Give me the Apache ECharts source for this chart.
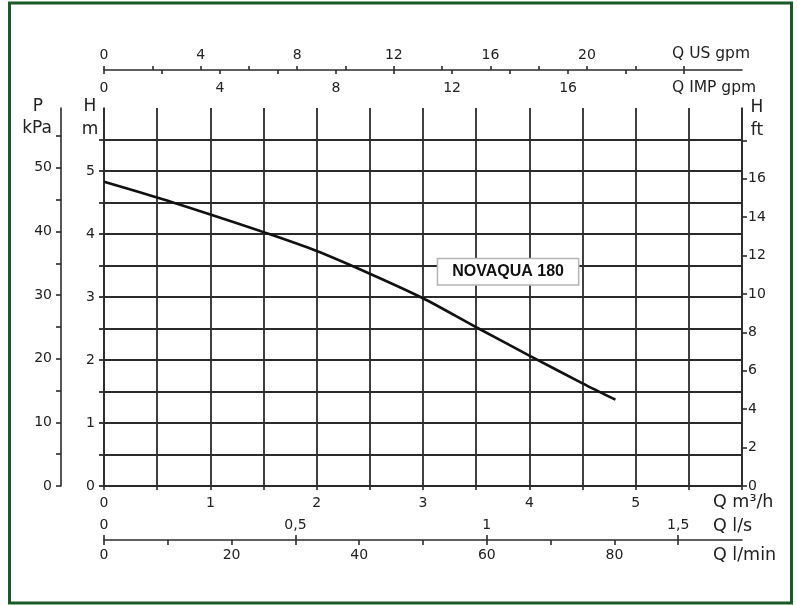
<!DOCTYPE html>
<html>
<head>
<meta charset="utf-8">
<script src="https://cdn.jsdelivr.net/npm/echarts@6/dist/echarts.min.js"></script>
<style>
html,body{margin:0;padding:0;background:#fff;}
#chart{width:797px;height:605px;}
</style>
</head>
<body>
<div id="chart"></div>
<script>
// ---- data ----
const flowM3h = [0, 0.5, 1, 1.5, 2, 2.5, 3, 3.5, 4, 4.5, 4.81];
const headM   = [4.83, 4.58, 4.31, 4.03, 3.73, 3.37, 2.98, 2.52, 2.07, 1.63, 1.37];
const curveName = 'NOVAQUA 180';

// tick label values
const m3hLabels   = [0, 1, 2, 3, 4, 5];
const lsLabels    = [0, 0.5, 1, 1.5];
const lminLabels  = [0, 20, 40, 60, 80];
const lminTicks   = [0, 10, 20, 30, 40, 50, 60, 70, 80, 90];
const usLabels    = [0, 4, 8, 12, 16, 20];
const usTicks     = [0, 2, 4, 6, 8, 10, 12, 14, 16, 18, 20, 22, 24];
const impLabels   = [0, 4, 8, 12, 16];
const impTicks    = [0, 2, 4, 6, 8, 10, 12, 14, 16, 18, 20];
const mLabels     = [0, 1, 2, 3, 4, 5];
const mTicks      = [0, 0.5, 1, 1.5, 2, 2.5, 3, 3.5, 4, 4.5, 5, 5.5];
const kpaLabels   = [0, 10, 20, 30, 40, 50];
const kpaTicks    = [0, 5, 10, 15, 20, 25, 30, 35, 40, 45, 50, 55];
const ftLabels    = [0, 2, 4, 6, 8, 10, 12, 14, 16];
const ftTicks     = [0, 2, 4, 6, 8, 10, 12, 14, 16, 18];

// unit conversions
const Q_MAX = 6, H_MAX = 6;
const LPS = Q_MAX / 3.6;
const LPM = Q_MAX * 1000 / 60;
const USGPM = Q_MAX / 0.2271247;
const IMPGPM = Q_MAX / 0.2727654;
const KPA = H_MAX * 9.9;
const FT = H_MAX / 0.3048;

const FONT = 'DejaVu Sans';
const TXT = '#222';
const LINE = '#2b2b2b';
const comma = v => String(v).replace('.', ',');

function axisCommon(extra) {
  const base = {
    type: 'value',
    splitLine: { show: false },
    minorTick: { show: false }
  };
  const out = Object.assign(base, extra);
  out.axisLine = Object.assign({ show: true, onZero: false, lineStyle: { color: LINE, width: 1.6 } }, extra.axisLine || {});
  return out;
}

const chart = echarts.init(document.getElementById('chart'), null, { renderer: 'canvas' });

const option = {
  backgroundColor: '#fff',
  animation: false,
  grid: { left: 104, right: 55, top: 108, bottom: 119, containLabel: false },
  xAxis: [
    axisCommon({
      position: 'bottom', min: 0, max: Q_MAX, interval: 0.5,
      axisTick: { show: true, length: 4, lineStyle: { color: LINE, width: 1.6 } },
      axisLabel: { customValues: m3hLabels, margin: 10, color: TXT, fontFamily: FONT, fontSize: 14 },
      splitLine: { show: true, lineStyle: { color: LINE, width: 1.8 } }
    }),
    axisCommon({
      position: 'bottom', offset: 54, min: 0, max: LPM,
      axisTick: { show: true, length: 5, customValues: lminTicks, lineStyle: { color: LINE, width: 1.6 } },
      axisLabel: { customValues: lminLabels, margin: 8, color: TXT, fontFamily: FONT, fontSize: 14 }
    }),
    axisCommon({
      position: 'bottom', offset: 54, min: 0, max: LPS,
      axisLine: { show: false },
      axisTick: { show: true, inside: true, length: 5, customValues: lsLabels, lineStyle: { color: LINE, width: 1.6 } },
      axisLabel: { inside: true, customValues: lsLabels, margin: 8, formatter: comma, color: TXT, fontFamily: FONT, fontSize: 14 }
    }),
    axisCommon({
      position: 'top', offset: 38, min: 0, max: USGPM,
      axisTick: { show: true, length: 4, customValues: usTicks, lineStyle: { color: LINE, width: 1.6 } },
      axisLabel: { customValues: usLabels, margin: 8, color: TXT, fontFamily: FONT, fontSize: 14 }
    }),
    axisCommon({
      position: 'top', offset: 38, min: 0, max: IMPGPM,
      axisLine: { show: false },
      axisTick: { show: true, inside: true, length: 4, customValues: impTicks, lineStyle: { color: LINE, width: 1.6 } },
      axisLabel: { inside: true, customValues: impLabels, margin: 11, color: TXT, fontFamily: FONT, fontSize: 14 }
    })
  ],
  yAxis: [
    axisCommon({
      position: 'left', min: 0, max: H_MAX, interval: 0.5,
      axisTick: { show: true, length: 5, customValues: mTicks, lineStyle: { color: LINE, width: 1.8 } },
      axisLabel: { customValues: mLabels, margin: 9, color: TXT, fontFamily: FONT, fontSize: 14 },
      splitLine: { show: true, lineStyle: { color: LINE, width: 1.8 } }
    }),
    axisCommon({
      position: 'left', offset: 43, min: 0, max: KPA,
      axisTick: { show: true, length: 5, customValues: kpaTicks, lineStyle: { color: LINE, width: 1.6 } },
      axisLabel: { customValues: kpaLabels, margin: 9, color: TXT, fontFamily: FONT, fontSize: 14 }
    }),
    axisCommon({
      position: 'right', min: 0, max: FT,
      axisTick: { show: true, length: 5, customValues: ftTicks, lineStyle: { color: LINE, width: 1.6 } },
      axisLabel: { customValues: ftLabels, margin: 6, color: TXT, fontFamily: FONT, fontSize: 14 }
    })
  ],
  series: [{
    type: 'line',
    name: curveName,
    xAxisIndex: 0, yAxisIndex: 0,
    data: flowM3h.map((q, i) => [q, headM[i]]),
    smooth: 0.3,
    symbol: 'none',
    lineStyle: { color: '#111', width: 2.6 },
    z: 5,
    markPoint: {
      symbol: 'rect', symbolSize: [1, 1],
      itemStyle: { color: 'rgba(0,0,0,0)' },
      label: {
        show: true, position: 'inside', formatter: curveName,
        fontFamily: 'Liberation Sans', fontWeight: 'bold', fontSize: 16, color: '#111',
        backgroundColor: '#fff', borderColor: '#b5b5b5', borderWidth: 1.5,
        padding: [5, 14, 4, 14]
      },
      data: [{ coord: [3.8, 3.4] }]
    }
  }],
  graphic: [
    { type: 'rect', shape: { x: 9.5, y: 3, width: 782, height: 600 }, style: { fill: 'none', stroke: '#1b5a26', lineWidth: 3 }, silent: true },
    { type: 'text', x: 38, y: 107, style: { text: 'P', font: '17px "DejaVu Sans"', fill: TXT, align: 'center', verticalAlign: 'middle' } },
    { type: 'text', x: 37, y: 129, style: { text: 'kPa', font: '17px "DejaVu Sans"', fill: TXT, align: 'center', verticalAlign: 'middle' } },
    { type: 'text', x: 90, y: 107, style: { text: 'H', font: '17px "DejaVu Sans"', fill: TXT, align: 'center', verticalAlign: 'middle' } },
    { type: 'text', x: 90, y: 130, style: { text: 'm', font: '17px "DejaVu Sans"', fill: TXT, align: 'center', verticalAlign: 'middle' } },
    { type: 'text', x: 757, y: 108, style: { text: 'H', font: '17px "DejaVu Sans"', fill: TXT, align: 'center', verticalAlign: 'middle' } },
    { type: 'text', x: 757, y: 131, style: { text: 'ft', font: '17px "DejaVu Sans"', fill: TXT, align: 'center', verticalAlign: 'middle' } },
    { type: 'text', x: 672, y: 54, style: { text: 'Q US gpm', font: '15.5px "DejaVu Sans"', fill: TXT, align: 'left', verticalAlign: 'middle' } },
    { type: 'text', x: 672, y: 88, style: { text: 'Q IMP gpm', font: '15.5px "DejaVu Sans"', fill: TXT, align: 'left', verticalAlign: 'middle' } },
    { type: 'text', x: 713, y: 502, style: { text: 'Q m³/h', font: '17.5px "DejaVu Sans"', fill: TXT, align: 'left', verticalAlign: 'middle' } },
    { type: 'text', x: 713, y: 526, style: { text: 'Q l/s', font: '17.5px "DejaVu Sans"', fill: TXT, align: 'left', verticalAlign: 'middle' } },
    { type: 'text', x: 713, y: 555, style: { text: 'Q l/min', font: '17.5px "DejaVu Sans"', fill: TXT, align: 'left', verticalAlign: 'middle' } }
  ]
};

chart.setOption(option);
</script>
</body>
</html>
